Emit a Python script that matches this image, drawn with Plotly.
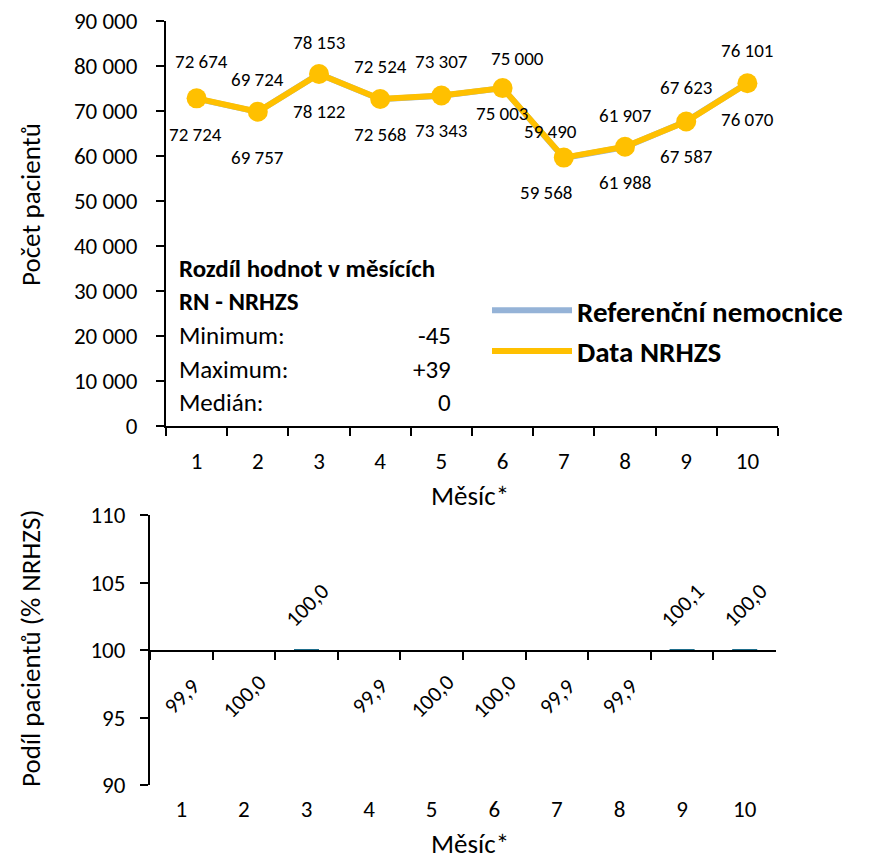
import plotly.graph_objects as go

# page body has an 8px margin; the figure is sized so that its right/bottom edges meet the window
OFF = 8
W, H = 877 - OFF, 862 - OFF

months = ["1", "2", "3", "4", "5", "6", "7", "8", "9", "10"]
rn_values = [72674, 69724, 78153, 72524, 73307, 75000, 59490, 61907, 67623, 76101]
nrhzs_values = [72724, 69757, 78122, 72568, 73343, 75003, 59568, 61988, 67587, 76070]
share_values = [99.93, 99.95, 100.04, 99.94, 99.95, 99.996, 99.87, 99.87, 100.05, 100.04]
share_labels = ["99,9", "100,0", "100,0", "99,9", "100,0", "100,0", "99,9", "99,9", "100,1", "100,0"]
y1_ticks = [0, 10000, 20000, 30000, 40000, 50000, 60000, 70000, 80000, 90000]
y2_ticks = [90, 95, 100, 105, 110]
info_rows = [("Minimum:", "-45"), ("Maximum:", "+39"), ("Medián:", "0")]

# label placement tweaks (pixels)
rn_dx = [5, 0, 0, 0, 0, 15, -13, 0, 0, 0]
rn_dy = [37, 32, 31, 33, 34, 30, 26, 32, 34, 33]
nr_dx = [-1, 0, 0, 0, 0, -1, -18, 0, 0, 0]
nr_dy = [36, 46, 37, 35, 35, 25, 35, 36, 35, 36]

FONT = "Carlito, Lato, 'Open Sans', sans-serif"
YELLOW = "#FFC000"
BLUE = "#95B3D7"
BAR = "#1F6E8C"


def px(x):
    return (x - OFF) / W


def py(y):
    return 1 - (y - OFF) / H


def fmt_int(v):
    return f"{v:,}".replace(",", " ")


cat_range = [-0.5, len(months) - 0.5]

fig = go.Figure()

fig.add_trace(go.Scatter(
    x=months, y=rn_values, mode="lines", name="Referenční nemocnice",
    line=dict(color=BLUE, width=6), xaxis="x", yaxis="y", legendgroup="a",
))
fig.add_trace(go.Scatter(
    x=months, y=nrhzs_values, mode="lines", name="Data NRHZS",
    line=dict(color=YELLOW, width=6), xaxis="x", yaxis="y", legendgroup="b",
))
fig.add_trace(go.Scatter(
    x=months, y=nrhzs_values, mode="markers", showlegend=False,
    marker=dict(color=YELLOW, size=20), xaxis="x", yaxis="y", legendgroup="b",
))

fig.add_trace(go.Bar(
    x=months, y=[v - 100 for v in share_values], base=100, showlegend=False,
    marker=dict(color=BAR, line=dict(width=0)), width=0.4, xaxis="x2", yaxis="y2",
))
# invisible trace to carry the mid axis (line at 100)
fig.add_trace(go.Scatter(
    x=months, y=[100] * len(months), mode="markers", marker=dict(opacity=0),
    showlegend=False, hoverinfo="skip", xaxis="x3", yaxis="y2",
))

annotations = []
for i, m in enumerate(months):
    annotations.append(dict(
        x=i, y=rn_values[i], xref="x", yref="y", text=fmt_int(rn_values[i]),
        showarrow=False, yshift=rn_dy[i], xshift=rn_dx[i],
        font=dict(size=19, color="black", family=FONT),
    ))
    annotations.append(dict(
        x=i, y=nrhzs_values[i], xref="x", yref="y", text=fmt_int(nrhzs_values[i]),
        showarrow=False, yshift=-nr_dy[i], xshift=nr_dx[i],
        font=dict(size=19, color="black", family=FONT),
    ))
    up = share_values[i] > 100
    annotations.append(dict(
        x=i, y=100, xref="x2", yref="y2", text=share_labels[i],
        showarrow=False, textangle=-45, yshift=45 if up else -46,
        font=dict(size=22, color="black", family=FONT),
    ))

# info box
INFO = dict(size=25, color="black", family=FONT)
annotations.append(dict(x=px(177), y=py(268), xref="paper", yref="paper", xanchor="left",
                        yanchor="middle", text="<b>Rozdíl hodnot v měsících</b>",
                        showarrow=False, font=INFO))
annotations.append(dict(x=px(177), y=py(302), xref="paper", yref="paper", xanchor="left",
                        yanchor="middle", text="<b>RN - NRHZS</b>", showarrow=False, font=INFO))
for j, (lab, val) in enumerate(info_rows):
    yy = py(335 + 34 * j)
    annotations.append(dict(x=px(177), y=yy, xref="paper", yref="paper", xanchor="left",
                            yanchor="middle", text=lab, showarrow=False, font=INFO))
    annotations.append(dict(x=px(453), y=yy, xref="paper", yref="paper", xanchor="right",
                            yanchor="middle", text=val, showarrow=False, font=INFO))

# axis titles
TITLE = dict(size=27, color="black", family=FONT)
annotations.append(dict(x=px(30), y=py(205), xref="paper", yref="paper", text="Počet pacientů",
                        xanchor="center", yanchor="middle", textangle=-90, showarrow=False, font=TITLE))
annotations.append(dict(x=px(470), y=py(495), xref="paper", yref="paper", text="Měsíc*",
                        xanchor="center", yanchor="middle", showarrow=False, font=TITLE))
annotations.append(dict(x=px(30), y=py(648), xref="paper", yref="paper", text="Podíl pacientů (% NRHZS)",
                        xanchor="center", yanchor="middle", textangle=-90, showarrow=False, font=TITLE))
annotations.append(dict(x=px(470), y=py(843), xref="paper", yref="paper", text="Měsíc*",
                        xanchor="center", yanchor="middle", showarrow=False, font=TITLE))

axis_common = dict(showgrid=False, zeroline=False, linecolor="black", linewidth=2,
                   tickcolor="black", tickwidth=2, ticklen=8, automargin=False,
                   ticklabeloverflow="allow",
                   tickfont=dict(size=23, color="black", family=FONT))

fig.update_layout(
    width=W, height=H,
    margin=dict(l=0, r=0, t=0, b=0, autoexpand=False),
    paper_bgcolor="white", plot_bgcolor="white",
    separators=", ",
    font=dict(family=FONT, color="black"),
    xaxis=dict(domain=[px(166), px(778)], anchor="y", type="category", range=cat_range,
               showline=True, ticks="outside", tickson="boundaries",
               ticklabelstandoff=13, **axis_common),
    yaxis=dict(domain=[py(426), py(20.5)], anchor="x", range=[0, 90000],
               tickvals=y1_ticks, tickformat=",d", showline=True, ticks="outside",
               ticklabelstandoff=14, **axis_common),
    xaxis2=dict(domain=[px(150), px(776)], anchor="y2", type="category", range=cat_range,
                showline=False, ticks="", ticklabelstandoff=8, **axis_common),
    xaxis3=dict(overlaying="x2", anchor="free", position=py(651), type="category",
                range=cat_range, showline=True, ticks="outside", tickson="boundaries",
                showticklabels=False, **axis_common),
    yaxis2=dict(domain=[py(785), py(515)], anchor="x2", range=[90, 110],
                tickvals=y2_ticks, showline=True, ticks="outside",
                ticklabelstandoff=10, **axis_common),
    legend=dict(x=px(487), y=py(285), xanchor="left", yanchor="top",
                bgcolor="rgba(0,0,0,0)", tracegroupgap=0, itemwidth=80,
                font=dict(size=29, color="black", family=FONT, weight="bold")),
    annotations=annotations,
)

fig.write_html("out.html")
